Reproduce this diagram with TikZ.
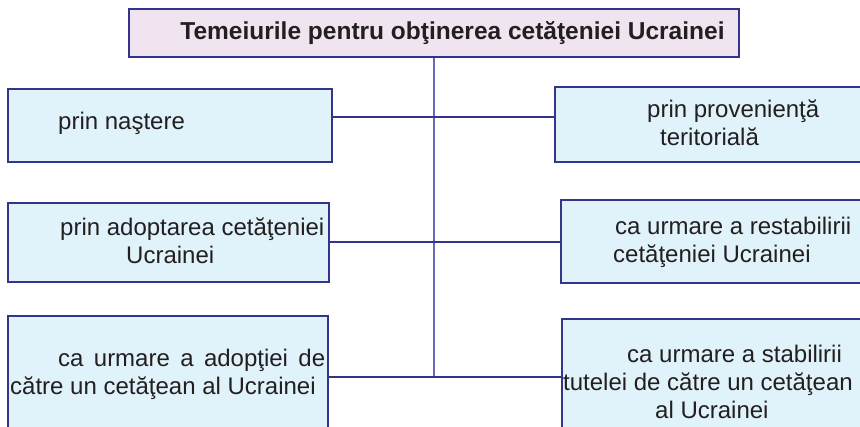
\documentclass[tikz,border=0pt]{standalone}
\usepackage{fontspec}
\setmainfont{Liberation Sans}
\usetikzlibrary{positioning}
\definecolor{boxline}{RGB}{52,52,140}
\definecolor{trunkline}{RGB}{105,105,185}
\definecolor{boxfill}{RGB}{224,242,250}
\definecolor{titlefill}{RGB}{240,228,240}
\definecolor{textcol}{RGB}{35,31,32}

\begin{document}
\begin{tikzpicture}[x=1pt, y=-1pt,
  box/.style={rectangle, draw=boxline, line width=1.3pt, fill=boxfill, inner sep=0pt},
  txt/.style={anchor=west, align=left, inner sep=0pt, text=textcol, font=\fontsize{24}{28}\selectfont},
  link/.style={draw=boxline, line width=1.3pt},
  trunk/.style={draw=trunkline, line width=1.6pt}]

\clip (0,0) rectangle (860,426);

\node[box, fill=titlefill, minimum width=610pt, minimum height=48pt] (title) at (434,33) {};
\node[box, minimum width=324pt, minimum height=73pt] (nastere) at (170,125.5) {};
\node[box, minimum width=315pt, minimum height=75pt] (proven) at (712.5,124.5) {};
\node[box, minimum width=321pt, minimum height=79pt] (adopt) at (168.5,242.5) {};
\node[box, minimum width=309pt, minimum height=83pt] (restab) at (715.5,241.5) {};
\node[box, minimum width=320pt, minimum height=124pt] (adoptie) at (168,378) {};
\node[box, minimum width=308pt, minimum height=121pt] (tutela) at (716,379.5) {};

\node[inner sep=0pt, text=textcol, font=\fontsize{24.5}{28}\selectfont\bfseries] (t_title) at (452.5,33) {Temeiurile pentru obţinerea cetăţeniei Ucrainei};
\node[txt] (t_nastere) at (58,123) {prin naştere};
\node[txt] (t_proven) at (647,122.5) {prin provenienţă\\\hspace*{13pt}teritorială};
\node[txt] (t_adopt) at (60,241) {prin adoptarea cetăţeniei\\\hspace*{66pt}Ucrainei};
\node[txt] (t_restab) at (613,242) {\hspace*{2pt}ca urmare a restabilirii\\cetăţeniei Ucrainei};
\node[txt] (t_adoptie) at (10,374) {\hspace*{48pt}\makebox[267pt][s]{ca urmare a adopţiei de}\\către un cetăţean al Ucrainei};
\node[txt] (t_tutela) at (563,382) {\hspace*{64pt}ca urmare a stabilirii\\tutelei de către un cetăţean\\\hspace*{92pt}al Ucrainei};

\coordinate (j1) at (434,117);
\coordinate (j2) at (434,242);
\coordinate (j3) at (434,377);

\draw[trunk] (title.south) -- (j3);
\draw[link] (nastere.east |- j1) -- (proven.west |- j1);
\draw[link] (adopt.east |- j2) -- (restab.west |- j2);
\draw[link] (adoptie.east |- j3) -- (tutela.west |- j3);

\end{tikzpicture}
\end{document}
